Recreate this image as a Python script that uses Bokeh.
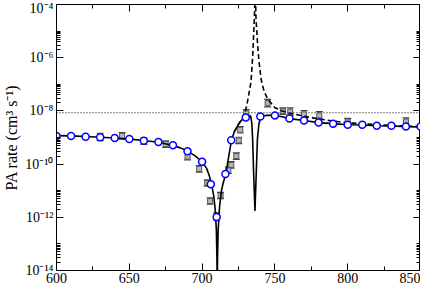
import numpy as np
from bokeh.plotting import figure
from bokeh.models import (FixedTicker, LinearAxis, LogAxis, CustomJSTickFormatter,
                          ColumnDataSource, Whisker, TeeHead, Label)
from bokeh.embed import file_html
from bokeh.resources import INLINE

# ---- data (log10 of rate) ----
theory_B = [600, 610, 620, 630, 640, 650, 660, 670, 680, 685, 690, 695, 700, 703, 705,
            706.5, 708, 709, 709.8, 710.2, 710.4, 710.6, 711, 712, 713.3, 714.5, 716.3,
            718, 720.2, 722, 724, 726, 728, 730, 732, 733.4, 734.2, 734.7, 735.4, 736.3,
            737.2, 738, 739, 740.3, 742, 745, 750, 755, 760, 770, 780, 790, 800, 810,
            820, 830, 840, 850]
theory_log = [-8.93, -8.94, -8.96, -8.99, -9.02, -9.06, -9.11, -9.18, -9.30, -9.39, -9.51,
              -9.68, -9.91, -10.15, -10.45, -10.75, -11.2, -11.7, -12.5, -13.6, -15.0,
              -13.6, -12.5, -11.6, -11.0, -10.7, -10.37, -9.8, -9.1, -8.8, -8.6, -8.42,
              -8.3, -8.22, -8.17, -8.2, -8.5, -9.06, -10.33, -11.76, -10.33, -9.06, -8.5,
              -8.22, -8.18, -8.17, -8.17, -8.22, -8.29, -8.36, -8.44, -8.48, -8.52, -8.53,
              -8.56, -8.57, -8.59, -8.60]

noint_B = [722, 725, 729, 731, 732.5, 733.6, 734.7, 735.5, 736.1, 736.4, 736.6, 737, 738,
           739, 740.5, 742.5, 745, 750, 755, 760, 770, 780, 790, 800, 810, 820, 830, 840, 850]
noint_log = [-8.8, -8.5, -8.2, -7.7, -7.25, -6.9, -6.0, -5.0, -4.2, -3.5, -3.5, -4.5, -5.4,
             -6.1, -6.8, -7.25, -7.55, -7.88, -8.0, -8.08, -8.2, -8.3, -8.38, -8.45, -8.48,
             -8.52, -8.55, -8.57, -8.59]

calc_B = [600, 610, 620, 630, 640, 650, 660, 670, 680, 690, 700, 706, 710, 716, 720, 730,
          740, 750, 760, 770, 780, 790, 800, 810, 820, 830, 840, 850]
calc_log = [-8.94, -8.94, -8.97, -8.99, -9.02, -9.06, -9.12, -9.17, -9.29, -9.52, -9.91,
            -10.76, -11.99, -10.37, -9.10, -8.25, -8.21, -8.17, -8.29, -8.36, -8.44, -8.48,
            -8.52, -8.52, -8.56, -8.56, -8.59, -8.59]

exp_B = [630, 645, 660, 675, 690, 698, 703.5, 705.5, 710, 712.7, 718, 720, 723.5, 725.2,
         726.2, 730.3, 745, 755.5, 760.5, 770, 780.5, 800, 840]
exp_log = [-8.98, -8.94, -9.14, -9.25, -9.72, -10.18, -10.71, -11.39, -11.97, -11.18,
           -10.23, -10.03, -9.7, -9.11, -8.71, -8.09, -7.71, -8.01, -8.03, -8.13, -8.17,
           -8.40, -8.40]
exp_err_dex = [0.14, 0.12, 0.12, 0.12, 0.12, 0.12, 0.12, 0.12, 0.14, 0.12, 0.12, 0.12, 0.12,
               0.12, 0.12, 0.14, 0.14, 0.12, 0.14, 0.14, 0.14, 0.12, 0.14]

threshold_log = -8.07

x_major = [600, 650, 700, 750, 800, 850]
x_minor = [625, 675, 725, 775, 825]
y_major_exp = [-14, -12, -10, -8, -6, -4]
x_title = "Magnetic field (Gauss)"
y_title = "PA rate (cm\u00b3 s\u207b\u00b9)"

FONT = "'Liberation Serif', 'Times New Roman', serif"

def lin(v):
    return [10.0 ** a for a in v]

p = figure(width=420, height=285, x_range=(600, 850), y_range=(1e-14, 1e-4),
           y_axis_type="log", output_backend="svg", toolbar_location=None,
           min_border_top=4, min_border_right=0, min_border_left=46, min_border_bottom=0)
p.grid.visible = False
p.outline_line_color = "black"
p.outline_line_width = 1
p.background_fill_color = "white"

xt = FixedTicker(ticks=x_major, minor_ticks=x_minor)
y_minor = []
for e in y_major_exp[:-1]:
    for k in range(2, 11):
        y_minor.append(k * 10.0 ** e)
yt = FixedTicker(ticks=[10.0 ** e for e in y_major_exp], minor_ticks=y_minor)

blank = CustomJSTickFormatter(code="return '';")

def style(ax, labels=True):
    ax.major_tick_in = 7
    ax.major_tick_out = 0
    ax.minor_tick_in = 4
    ax.minor_tick_out = 0
    ax.axis_line_color = "black"
    ax.major_tick_line_color = "black"
    ax.minor_tick_line_color = "black"
    ax.major_label_text_font = FONT
    ax.major_label_text_font_size = "14px"
    ax.major_label_text_color = "black"
    ax.major_label_text_line_height = 1.0
    ax.axis_label_text_font = FONT
    ax.axis_label_text_font_size = "16px"
    ax.axis_label_text_font_style = "normal"
    ax.axis_label_text_color = "black"
    ax.axis_label_text_line_height = 1.0
    if not labels:
        ax.formatter = blank
        ax.major_label_standoff = 0

fmt = CustomJSTickFormatter(code="""
const e = Math.round(Math.log10(tick));
const sup = {'-':'\u207b','0':'\u2070','1':'\u00b9','2':'\u00b2','3':'\u00b3','4':'\u2074',
             '5':'\u2075','6':'\u2076','7':'\u2077','8':'\u2078','9':'\u2079'};
return '10' + String(e).split('').map(c => sup[c]).join('');
""")

xa = p.xaxis[0]
xa.ticker = xt
style(xa)
xa.major_label_standoff = 2

ya = p.yaxis[0]
ya.ticker = yt
ya.formatter = fmt
ya.axis_label = y_title
style(ya)
ya.major_label_standoff = 3
ya.axis_label_standoff = 2

top = LinearAxis(ticker=xt)
style(top, labels=False)
p.add_layout(top, "above")
right = LogAxis(ticker=yt)
style(right, labels=False)
p.add_layout(right, "right")

# x-axis title placed under the tick labels
p.add_layout(Label(x=(x_major[0] + x_major[-1]) / 2, y=-18, x_units="data", y_units="screen",
                   text=x_title, text_align="center", text_baseline="top",
                   text_font=FONT, text_font_size="16px", text_color="black"))

# threshold dotted line
p.line(x=[x_major[0], x_major[-1]], y=[10 ** threshold_log] * 2, line_color="black",
       line_width=1.2, line_dash="1 2")

# experiment with error bars
elo = [10 ** (a - d) for a, d in zip(exp_log, exp_err_dex)]
ehi = [10 ** (a + d) for a, d in zip(exp_log, exp_err_dex)]
esrc = ColumnDataSource(dict(x=exp_B, y=lin(exp_log), lo=elo, hi=ehi))
wh = Whisker(source=esrc, base="x", upper="hi", lower="lo", dimension="height",
             line_color="#444444", line_width=1,
             upper_head=TeeHead(size=7, line_color="#444444", line_width=1.2),
             lower_head=TeeHead(size=7, line_color="#444444", line_width=1.2))
p.add_layout(wh)
p.scatter("x", "y", source=esrc, marker="square", size=5, fill_color="#b8b8b8",
          line_color="#555555", line_width=1)

# theory curves
p.line(theory_B, lin(theory_log), line_color="black", line_width=1.6)
p.line(noint_B, lin(noint_log), line_color="black", line_width=1.6, line_dash="5 3")

# calculated points
p.scatter(calc_B, lin(calc_log), marker="circle", size=7, fill_color="white",
          line_color="#0000ff", line_width=1.5)

open("out.html", "w", encoding="utf-8").write(file_html(p, INLINE))
